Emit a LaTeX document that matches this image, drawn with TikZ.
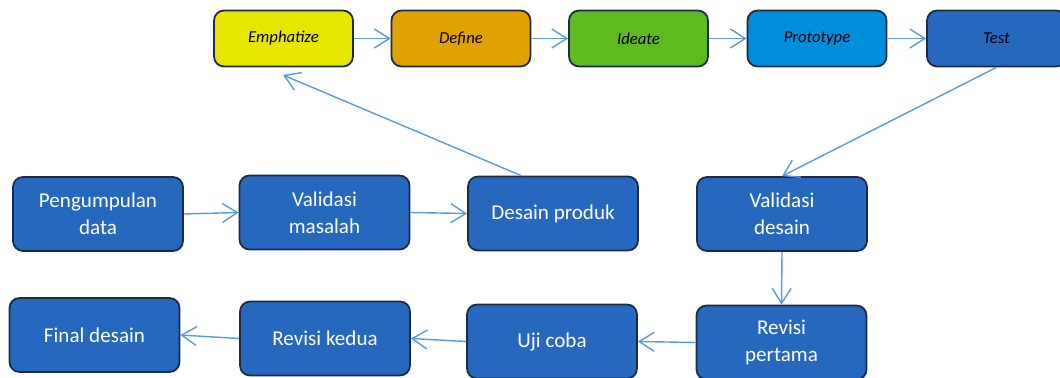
\documentclass[tikz,border=0pt]{standalone}
\usepackage{fontspec}
\setmainfont{Carlito}
\usepackage{tikz}
\usetikzlibrary{arrows.meta,shapes}
\definecolor{kuning}{RGB}{230,230,0}
\definecolor{oranye}{RGB}{224,162,0}
\definecolor{hijau}{RGB}{94,186,32}
\definecolor{biru}{RGB}{0,142,218}
\definecolor{birutua}{RGB}{38,104,190}
\definecolor{garis}{RGB}{28,42,70}
\definecolor{panah}{RGB}{91,155,213}

\begin{document}
\begin{tikzpicture}[x=0.02cm,y=-0.02cm]
\useasboundingbox (0,0) rectangle (1060,378);
\tikzstyle{atas}=[draw=garis,line width=1pt,rounded corners=0.2cm,minimum width=2.78cm,minimum height=1.12cm,font=\fontsize{9.5}{11}\selectfont\itshape,text=black];
\tikzstyle{kotak}=[draw=garis,line width=1pt,rounded corners=0.2cm,fill=birutua,minimum width=3.4cm,minimum height=1.48cm,align=center,font=\fontsize{12}{15.5}\selectfont,text=white];
\tikzstyle{alur}=[draw=panah,line width=0.8pt,-{Straight Barb[length=0.3cm,width=0.38cm]}];
\node[atas,fill=kuning] (emp) at (283.5,38.5) {Emphatize};
\node[atas,fill=oranye] (def) at (461,38.5) {Define};
\node[atas,fill=hijau] (ide) at (638.5,38.5) {Ideate};
\node[atas,fill=biru] (pro) at (817,38.5) {Prototype};
\node[atas,fill=birutua] (tes) at (996.5,38.5) {Test};
\node[kotak] (pd) at (98,214) {Pengumpulan\\data};
\node[kotak] (vm) at (324.5,212.5) {Validasi\\masalah};
\node[kotak] (dp) at (553,213.5) {Desain produk};
\node[kotak] (vd) at (782,214) {Validasi\\desain};
\node[kotak] (fd) at (94.5,335) {Final desain};
\node[kotak] (rk) at (325,338.5) {Revisi kedua};
\node[kotak] (uc) at (552,341.5) {Uji coba};
\node[kotak] (rp) at (781.5,342.5) {Revisi\\pertama};
\coordinate (balik) at (283,75);
\draw[alur] (emp) -- (def);
\draw[alur] (def) -- (ide);
\draw[alur] (ide) -- (pro);
\draw[alur] (pro) -- (tes);
\draw[alur] (tes.south) -- (vd.north);
\draw[alur] (dp.130) -- (balik);
\draw[alur] (pd.east) -- (vm.west);
\draw[alur] (vm.east) -- (dp.west);
\draw[alur] (vd.south) -- (rp.north);
\draw[alur] (rp.west) -- (uc.east);
\draw[alur] (uc.west) -- (rk.east);
\draw[alur] (rk.west) -- (fd.east);
\end{tikzpicture}
\end{document}
